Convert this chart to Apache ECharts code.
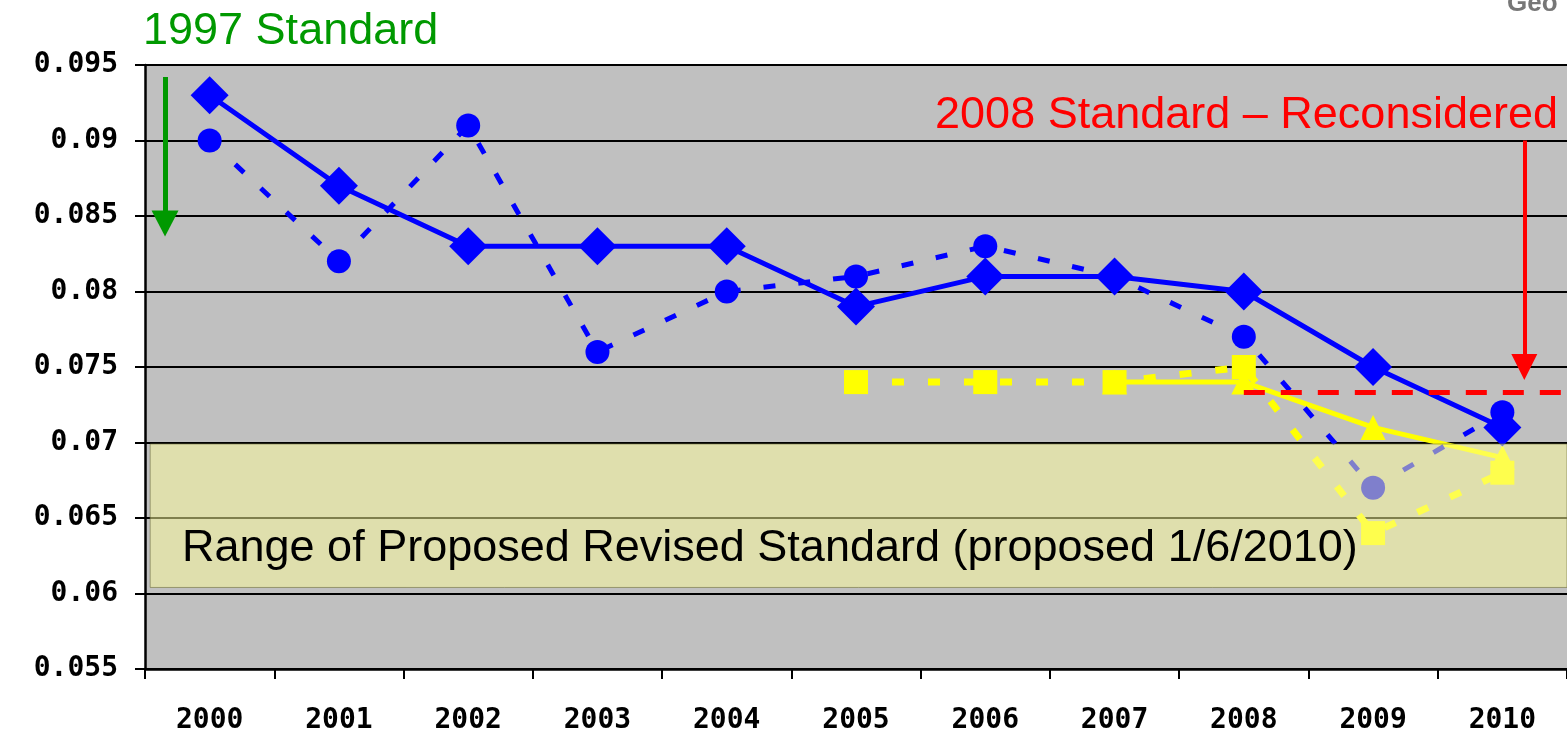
<!DOCTYPE html>
<html>
<head>
<meta charset="utf-8">
<script src="https://cdn.jsdelivr.net/npm/echarts@6/dist/echarts.min.js"></script>
<style>
html, body { margin: 0; padding: 0; background: #fff; }
#chart { width: 1567px; height: 739px; }
</style>
</head>
<body>
<div id="chart"></div>
<script>
// 年份
const years = ['2000', '2001', '2002', '2003', '2004', '2005', '2006', '2007', '2008', '2009', '2010'];

// 蓝色实线（菱形）
const designValue = [0.093, 0.087, 0.083, 0.083, 0.083, 0.079, 0.081, 0.081, 0.080, 0.075, 0.071];
// 蓝色虚线（圆点）
const annualValue = [0.090, 0.082, 0.091, 0.076, 0.080, 0.081, 0.083, 0.081, 0.077, 0.067, 0.072];
// 黄色虚线（方块）
const yellowAnnual = [null, null, null, null, null, 0.074, 0.074, 0.074, 0.075, 0.064, 0.068];
// 黄色实线（三角）
const yellowDesign = [null, null, null, null, null, null, null, 0.074, 0.074, 0.071, 0.069];

// 标准线
const standard1997 = 0.0836;
const standard2008 = 0.0733;
const proposedRange = [0.0604, 0.0699];

const yMin = 0.055;
const yMax = 0.095;
const yStep = 0.005;

const chart = echarts.init(document.getElementById('chart'));

const labelFont = {
    color: '#000',
    fontFamily: 'DejaVu Sans Mono',
    fontWeight: 'bold',
    fontSize: 28
};

const option = {
    animation: false,
    backgroundColor: '#fff',
    grid: {
        left: 145,
        top: 65,
        right: 0,
        bottom: 70,
        containLabel: false,
        outerBoundsMode: 'none',
        show: true,
        backgroundColor: '#C0C0C0',
        borderWidth: 0
    },
    xAxis: [{
        type: 'category',
        data: years,
        boundaryGap: true,
        axisLine: { show: true, lineStyle: { color: '#000', width: 2.5 } },
        axisTick: { show: true, length: 10, interval: 0, lineStyle: { color: '#000', width: 2 } },
        axisLabel: Object.assign({ margin: 38, interval: 0 }, labelFont),
        splitLine: { show: false }
    }, {
        // 隐藏的数值轴，用于放置标注
        type: 'value',
        min: 0,
        max: 11,
        show: false
    }],
    yAxis: {
        type: 'value',
        min: yMin,
        max: yMax,
        interval: yStep,
        axisLine: { show: true, lineStyle: { color: '#000', width: 2.5 } },
        axisTick: { show: true, length: 10, lineStyle: { color: '#000', width: 2 } },
        axisLabel: Object.assign({ margin: 27 }, labelFont),
        splitLine: { show: true, lineStyle: { color: '#000', width: 2 } }
    },
    series: [
        {
            name: 'yellow design',
            type: 'line',
            data: yellowDesign,
            symbol: 'triangle',
            symbolSize: 25,
            lineStyle: { color: '#FFFF00', width: 5 },
            itemStyle: { color: '#FFFF00', borderWidth: 0 },
            z: 3
        },
        {
            name: 'yellow annual',
            type: 'line',
            data: yellowAnnual,
            symbol: 'rect',
            symbolSize: 24,
            lineStyle: { color: '#FFFF00', width: 7, type: [12, 24] },
            itemStyle: { color: '#FFFF00', borderWidth: 0 },
            z: 3
        },
        {
            name: 'annual',
            type: 'line',
            data: annualValue,
            symbol: 'circle',
            symbolSize: 24,
            lineStyle: { color: '#0000FF', width: 5, type: [12, 23] },
            itemStyle: { color: '#0000FF', borderWidth: 0 },
            z: 4
        },
        {
            name: 'design',
            type: 'line',
            data: designValue,
            symbol: 'diamond',
            symbolSize: 38,
            lineStyle: { color: '#0000FF', width: 5 },
            itemStyle: { color: '#0000FF', borderWidth: 0 },
            z: 4
        },
        {
            // 拟议标准范围（半透明，盖在折线上）
            name: 'range',
            type: 'line',
            xAxisIndex: 1,
            data: [],
            silent: true,
            markArea: {
                silent: true,
                z: 10,
                itemStyle: {
                    color: 'rgba(253, 253, 154, 0.5)',
                    borderColor: 'rgba(110, 110, 60, 0.6)',
                    borderWidth: 1
                },
                label: { show: false },
                data: [[{ coord: [0.04, proposedRange[1]] }, { coord: [11, proposedRange[0]] }]]
            }
        },
        {
            // 标准线和箭头
            name: 'standards',
            type: 'line',
            xAxisIndex: 1,
            data: [],
            silent: true,
            clip: false,
            markLine: {
                silent: true,
                z: 6,
                label: { show: false },
                symbol: ['none', 'none'],
                data: [
                    [
                        { coord: [-0.09, standard1997], lineStyle: { color: '#008000', width: 5, type: [22, 15] } },
                        { coord: [11, standard1997] }
                    ],
                    [
                        { coord: [8.5, standard2008], lineStyle: { color: '#FF0000', width: 5, type: [21, 16] } },
                        { coord: [11, standard2008] }
                    ],
                    [
                        { coord: [0.155, 0.0942], symbol: 'none', lineStyle: { color: '#009900', width: 5, type: 'solid' } },
                        { coord: [0.155, 0.0845], symbol: 'triangle', symbolSize: [27, 26] }
                    ],
                    [
                        { coord: [10.67, 0.0900], symbol: 'none', lineStyle: { color: '#FF0000', width: 4, type: 'solid' } },
                        { coord: [10.67, 0.0750], symbol: 'triangle', symbolSize: [26, 26] }
                    ]
                ]
            }
        }
    ],
    graphic: [
        {
            type: 'text', left: 143, top: 9, z: 20,
            style: { text: '1997 Standard', fill: '#009900', font: '45px "Liberation Sans", Arial, sans-serif' }
        },
        {
            type: 'text', right: 9, top: 93, z: 20,
            style: { text: '2008 Standard \u2013 Reconsidered', fill: '#FF0000', font: '45px "Liberation Sans", Arial, sans-serif' }
        },
        {
            type: 'text', left: 182, top: 526, z: 20,
            style: { text: 'Range of Proposed Revised Standard (proposed 1/6/2010)', fill: '#000', font: '45px "Liberation Sans", Arial, sans-serif' }
        },
        {
            type: 'text', left: 1507, top: -9, z: 20,
            style: { text: 'Geo', fill: '#777', font: 'bold 26px "Liberation Sans", Arial, sans-serif' }
        }
    ]
};

chart.setOption(option);
</script>
</body>
</html>
